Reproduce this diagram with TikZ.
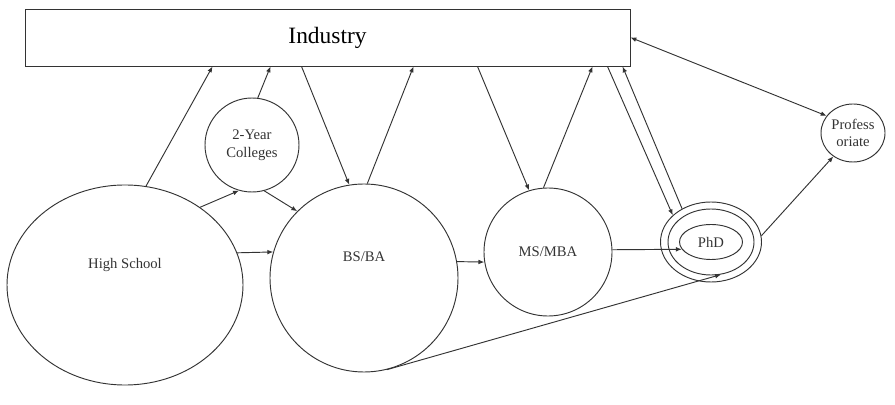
\documentclass[tikz,border=0pt]{standalone}
\usepackage{fontspec}
\setmainfont{Liberation Serif}
\usetikzlibrary{shapes.geometric, arrows.meta, calc}

\begin{document}
\begin{tikzpicture}[
        x=0.03cm, y=-0.03cm,
        line width=0.8pt, draw=black!80,
        box/.style={rectangle, draw, minimum width=18.15cm, minimum height=1.71cm,
                    font=\fontsize{20}{24}\selectfont},
        stage/.style={circle, draw, inner sep=0pt, align=center,
                      font=\fontsize{12.5}{15}\selectfont, text=black!80},
        ring/.style={ellipse, draw, inner sep=0pt, align=center,
                     font=\fontsize{12.5}{15}\selectfont, text=black!80},
        tag/.style={font=\fontsize{12.5}{15}\selectfont, text=black!80},
        arrow/.style={-{Latex[length=5pt,width=4pt]}, draw=black!80}
    ]
        \useasboundingbox (0,0) rectangle (895,405);

        % Industry on top
        \node[box] (ind) at (327.5,37.5) {Industry};

        % education stages
        \node[ring, minimum width=7.08cm, minimum height=6cm,
              label={[tag, yshift=0.6cm]center:High School}] (hs) at (125,285) {};
        \node[stage, minimum size=2.82cm] (two) at (252,145) {2-Year\\Colleges};
        \node[stage, minimum size=5.64cm,
              label={[tag, yshift=0.63cm]center:BS/BA}] (bs) at (364,278) {};
        \node[stage, minimum size=3.84cm] (ms) at (548,252) {MS/MBA};

        % PhD as three rings
        \node[ring, minimum width=3.03cm, minimum height=2.4cm] (phdo) at (711,242) {};
        \node[ring, minimum width=2.58cm, minimum height=1.98cm] (phdm) at (711,242) {};
        \node[ring, minimum width=1.89cm, minimum height=1.05cm] (phd) at (711,242) {PhD};

        \node[ring, minimum width=1.92cm, minimum height=1.74cm] (prof) at (853,133) {Profess\\oriate};

        % up to industry and back
        \draw[arrow] (hs.78.5) -- ($(ind.south west)+(188,0)$);
        \draw[arrow] (two.83) -- ($(ind.south west)+(246,0)$);
        \draw[arrow] ($(ind.south west)+(277,0)$) -- (bs.99);
        \draw[arrow] (bs.88) -- ($(ind.south west)+(389,0)$);
        \draw[arrow] ($(ind.south west)+(453,0)$) -- (ms.107);
        \draw[arrow] (ms.94) -- ($(ind.south west)+(568,0)$);
        \draw[arrow] ($(ind.south west)+(583,0)$) -- (phdo.145);
        \draw[arrow] (phdo.131) -- ($(ind.south west)+(598,0)$);
        \draw[{Latex[length=5pt,width=4pt]}-{Latex[length=5pt,width=4pt]}] (ind.east) -- (prof.147);

        % along the stages
        \draw[arrow] (hs.46) -- (two.254);
        \draw[arrow] (two.285) -- (bs.135);
        \draw[arrow] (hs.16.5) -- (bs.164);
        \draw[arrow] (bs.10) -- (ms.189);
        \draw[arrow] (ms.2) -- (phd.194);
        \draw[arrow] (phdo.7) -- (prof.230);
        \draw[arrow] (bs.284) -- (phdm.287);
    \end{tikzpicture}
\end{document}
